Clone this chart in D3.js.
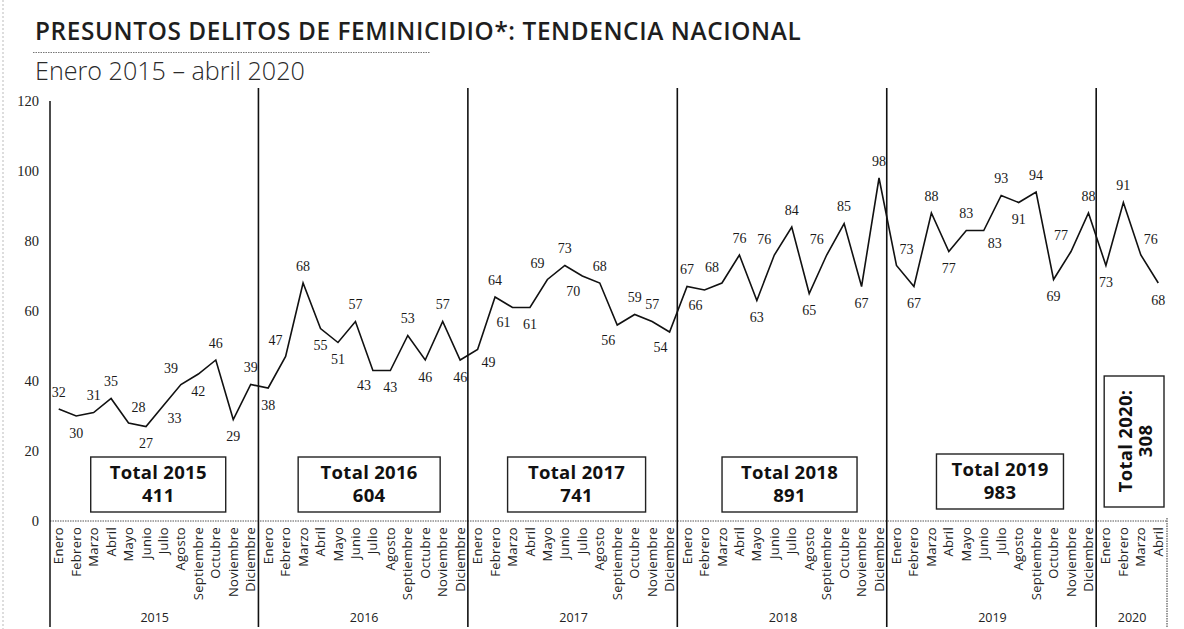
<!DOCTYPE html>
<html><head><meta charset="utf-8">
<script src="https://cdn.jsdelivr.net/npm/d3@7"></script>
<style>body{margin:0;background:#fff} svg{display:block}</style>
</head><body>
<svg id="c" width="1184" height="629"></svg>
<script>
// ---- data ----
const months = ["Enero","Febrero","Marzo","Abril","Mayo","Junio","Julio","Agosto","Septiembre","Octubre","Noviembre","Diciembre"];
const years = ["2015","2016","2017","2018","2019","2020"];
const values2015 = [32,30,31,35,28,27,33,39,42,46,29,39];
const values2016 = [38,47,68,55,51,57,43,43,53,46,57,46];
const values2017 = [49,64,61,61,69,73,70,68,56,59,57,54];
const values2018 = [67,66,68,76,63,76,84,65,76,85,67,98];
const values2019 = [73,67,88,77,83,83,93,91,94,69,77,88];
const values2020 = [73,91,76,68];
const totals = [411,604,741,891,983,308];
const yTicks = [0,20,40,60,80,100,120];
// label side: a above, b below, al/ar above-left/right, bl/br below-left/right
const side2015 = ["a","b","a","a","ar","b","br","al","b","a","b","a"];
const side2016 = ["b","al","a","b","b","a","bl","b","a","b","a","b"];
const side2017 = ["br","a","bl","b","al","a","bl","a","bl","a","a","bl"];
const side2018 = ["a","bl","al","a","b","al","a","b","al","a","b","a"];
const side2019 = ["ar","b","a","b","a","br","a","b","a","b","al","a"];
const side2020 = ["b","a","ar","b"];

const seriesByYear = [values2015,values2016,values2017,values2018,values2019,values2020];
const sidesByYear = [side2015,side2016,side2017,side2018,side2019,side2020];
const points = [];
seriesByYear.forEach((vals, yi) => vals.forEach((v, mi) => points.push({year: years[yi], month: months[mi], value: v, side: sidesByYear[yi][mi]})));
points.forEach((p,i)=>p.i=i);

// ---- layout ----
const svg = d3.select("#c");
const left = 50, right = 1167, yTop = 101, yZero = 521, bottom = 627;
const x = d3.scaleBand().domain(d3.range(points.length)).range([left, right]).padding(0);
const bw = x.bandwidth();
const cx = i => x(i) + bw/2;
const y = d3.scaleLinear().domain([0,120]).range([yZero, yTop]);

// scan edge
svg.append("line").attr("x1",3).attr("x2",3).attr("y1",0).attr("y2",629)
  .attr("stroke","#bbb").attr("stroke-width",1).attr("stroke-dasharray","2,2");

// title
const title = svg.append("text").attr("x",35).attr("y",40)
  .attr("font-family","'Open Sans', sans-serif").attr("font-weight",600).attr("font-size",22)
  .attr("fill","#1e1e1e").attr("letter-spacing",0.6).text("PRESUNTOS DELITOS DE FEMINICIDIO*: TENDENCIA NACIONAL");
{
  const w = title.node().getComputedTextLength();
  title.attr("font-size", 22 * 770 / w);
}
svg.append("line").attr("x1",33).attr("x2",430).attr("y1",52.5).attr("y2",52.5)
  .attr("stroke","#777").attr("stroke-width",1).attr("stroke-dasharray","1.5,1");
const sub = svg.append("text").attr("x",35).attr("y",80)
  .attr("font-family","'Open Sans', sans-serif").attr("font-weight",300).attr("font-size",19)
  .attr("fill","#2a2a2a").text("Enero 2015 – abril 2020");
{
  const w = sub.node().getComputedTextLength();
  sub.attr("font-size", 19 * 270 / w);
}

// y axis labels
const yAxis = d3.axisLeft(y).tickValues(yTicks).tickSize(0).tickPadding(11);
const yg = svg.append("g").attr("transform",`translate(${left},0)`).call(yAxis);
yg.select(".domain").remove();
yg.selectAll("text").attr("font-family","'Liberation Serif', serif").attr("font-size",14.5).attr("fill","#222");

// horizontal zero line
svg.append("line").attr("x1",left).attr("x2",right).attr("y1",yZero).attr("y2",yZero)
  .attr("stroke","#555").attr("stroke-width",1).attr("stroke-dasharray","1.5,1");

// vertical lines
svg.append("line").attr("x1",left).attr("x2",left).attr("y1",yTop).attr("y2",bottom)
  .attr("stroke","#111").attr("stroke-width",1.5);
svg.append("line").attr("x1",right).attr("x2",right).attr("y1",yZero-3).attr("y2",bottom)
  .attr("stroke","#333").attr("stroke-width",1).attr("stroke-dasharray","1.5,1");
const yearStarts = [];
{ let k=0; seriesByYear.forEach(v=>{ yearStarts.push(k); k+=v.length; }); }
svg.selectAll("line.sep").data(yearStarts.slice(1)).join("line").attr("class","sep")
  .attr("x1",d=>x(d)-1).attr("x2",d=>x(d)-1).attr("y1",88).attr("y2",bottom)
  .attr("stroke","#111").attr("stroke-width",1.6);

// x axis month labels
const xAxis = d3.axisBottom(x).tickSize(0).tickFormat(i => points[i].month);
const xg = svg.append("g").attr("transform",`translate(0,${yZero})`).call(xAxis);
xg.select(".domain").remove();
xg.selectAll("text")
  .attr("font-family","'Open Sans', sans-serif").attr("font-size",13).attr("letter-spacing",0.3).attr("fill","#222")
  .attr("text-anchor","end").attr("transform","translate(0,6) rotate(-90)")
  .attr("x",0).attr("y",0).attr("dy","0.35em");

// year labels
svg.selectAll("text.yr").data(years).join("text").attr("class","yr")
  .attr("x",(d,k)=>{ const s=yearStarts[k], e=s+seriesByYear[k].length; return (x(s)+x(e-1)+bw)/2; })
  .attr("y",622).attr("text-anchor","middle")
  .attr("font-family","'Open Sans', sans-serif").attr("font-size",12.5).attr("fill","#222")
  .text(d=>d);

// totals boxes
const boxOffsets = [3.5,5,3,6.5,7.5];
const boxWidths = [135,142,138,135,127];
const boxFont = {"font-family":"'Open Sans', sans-serif","font-weight":700,"font-size":18.5,"fill":"#111","letter-spacing":0.3};
function applyFont(sel){ Object.entries(boxFont).forEach(([k,v])=>sel.attr(k,v)); return sel; }
for (let k=0;k<5;k++){
  const s=yearStarts[k], e=s+12;
  const mid=(x(s)+x(e-1)+bw)/2 + boxOffsets[k];
  const bwid=boxWidths[k];
  const top = k===4 ? 454 : 457;
  svg.append("rect").attr("x",mid-bwid/2).attr("y",top).attr("width",bwid).attr("height",55)
    .attr("fill","#fff").attr("stroke","#222").attr("stroke-width",1.4);
  applyFont(svg.append("text").attr("x",mid).attr("y",top+22).attr("text-anchor","middle"))
    .text("Total " + years[k]);
  applyFont(svg.append("text").attr("x",mid).attr("y",top+45).attr("text-anchor","middle"))
    .text(totals[k]);
}
{
  const s=yearStarts[5];
  const x0 = x(s)+7, x1 = right-3;
  svg.append("rect").attr("x",x0).attr("y",376).attr("width",x1-x0).attr("height",131)
    .attr("fill","#fff").attr("stroke","#222").attr("stroke-width",1.4);
  const g = svg.append("g").attr("transform",`translate(${(x0+x1)/2},441) rotate(-90)`);
  applyFont(g.append("text").attr("x",0).attr("y",-2).attr("text-anchor","middle"))
    .text("Total " + years[5] + ":");
  applyFont(g.append("text").attr("x",0).attr("y",18).attr("text-anchor","middle"))
    .text(totals[5]);
}

// line
const line = d3.line().x(d=>cx(d.i)).y(d=>y(d.value));
svg.append("path").datum(points).attr("d",line).attr("fill","none")
  .attr("stroke","#111").attr("stroke-width",1.6).attr("stroke-linejoin","miter");

// data labels
const off = {a:[0,-17], b:[0,17], al:[-10,-16], ar:[10,-16], bl:[-9,15], br:[11,13]};
svg.selectAll("text.lbl").data(points).join("text").attr("class","lbl")
  .attr("x",d=>cx(d.i)+off[d.side][0]).attr("y",d=>y(d.value)+off[d.side][1])
  .attr("dy","0.35em").attr("text-anchor","middle")
  .attr("font-family","'Liberation Serif', serif").attr("font-size",14).attr("fill","#1a1a1a")
  .text(d=>d.value);
</script>
</body></html>
